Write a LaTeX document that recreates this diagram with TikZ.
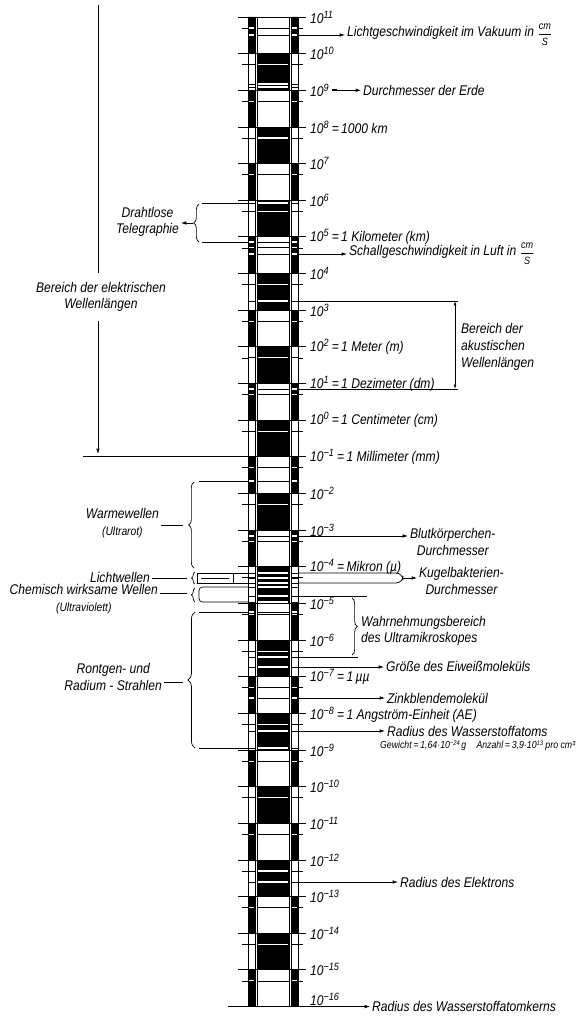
\documentclass[tikz,border=0pt]{standalone}
\usepackage{amsmath}
\usepackage{fontspec}
\setmainfont{Liberation Sans}[FakeStretch=0.86]
\usetikzlibrary{arrows.meta}
\usetikzlibrary{decorations.pathreplacing}

\newcommand\hoch[1]{\ifnum#1<0 \textsuperscript{−\number-#1}\else\textsuperscript{#1}\fi}
\newcommand\khoch[1]{\raisebox{0.5ex}{\fontsize{3.8}{4}\selectfont #1}}
\newcommand\bruch[2]{\raisebox{-0.2ex}{\fontsize{6}{6}\selectfont
  \begin{tabular}[c]{@{}c@{}}#1\\[1.2pt]\hline\noalign{\vskip1.5pt}#2\end{tabular}}}
% Querstrich durch die Saeule, hell auf dunkel und dunkel auf hell
\newcommand\strich[1]{%
  \pgfmathtruncatemacro\seg{floor((#1-17)/36.65)}%
  \ifodd\seg\relax
    \draw[white, line width=0.6pt] (258,#1) -- (288,#1);
    \draw[line width=0.5pt] (248,#1) -- (255,#1) (291,#1) -- (298,#1);
  \else
    \draw[white, line width=0.6pt] (249,#1) -- (254,#1) (292,#1) -- (297,#1);
    \draw[line width=0.5pt] (257,#1) -- (289,#1);
  \fi}

\begin{document}
\begin{tikzpicture}[x=0.02cm,y=-0.02cm,
  declare function={dy(\e)=17+(11-\e)*36.65;},
  beschr/.style={font=\fontsize{8}{9.5}\selectfont\itshape, inner sep=1pt},
  klein/.style={font=\fontsize{5.8}{6.5}\selectfont\itshape, inner sep=1pt},
  linie/.style={line width=0.4pt},
  pfeil/.style={line width=0.4pt, -{Latex[length=3pt,width=2pt]}},
  dpfeil/.style={line width=0.4pt, {Latex[length=2.5pt,width=1.6pt]}-{Latex[length=2.5pt,width=1.6pt]}},
  klammer/.style={decorate, decoration={brace, amplitude=3pt}, line width=0.4pt}]

\useasboundingbox (0,0) rectangle (585,1020);

% Felder der Saeule
\foreach \k in {0,...,26}{
  \pgfmathsetmacro\ya{17+\k*36.65}
  \pgfmathsetmacro\yb{17+(\k+1)*36.65}
  \ifodd\k\relax
    \fill (257,\ya) rectangle (289,\yb);
  \else
    \fill (248,\ya) rectangle (255,\yb) (291,\ya) rectangle (298,\yb);
  \fi
  \pgfmathsetmacro\ym{\ya+11.03}
  \strich{\ym}
  \draw[linie] (242,\ym) -- (248,\ym) (298,\ym) -- (303,\ym);
}
% besondere Marken
\foreach \y in {35,84,87,203,242,254,301,389,481,536,573,578,583,587,602,596,612,657,667,698,731,748,882}{
  \strich{\y}
}
\draw[linie] (248,17) rectangle (255,{dy(-16)}) (257,17) rectangle (289,{dy(-16)})
  (291,17) rectangle (298,{dy(-16)});

% Zehnerpotenzen
\foreach \e/\zusatz [count=\i from 0] in {11/{},10/{},9/{},8/{\,=\,1000 km},7/{},6/{},
  5/{\,=\,1 Kilometer (km)},4/{},3/{},2/{\,=\,1 Meter (m)},1/{\,=\,1 Dezimeter (dm)},
  0/{\,=\,1 Centimeter (cm)},-1/{\,=\,1 Millimeter (mm)},-2/{},-3/{},-4/{\,=\,Mikron (µ)},
  -5/{},-6/{},-7/{\,=\,1\,µµ},-8/{\,=\,1 Angström-Einheit (AE)},-9/{},-10/{},-11/{},
  -12/{},-13/{},-14/{},-15/{},-16/{}}{
  \draw[line width=0.5pt] (238,{dy(\e)}) -- (306,{dy(\e)});
  \pgfmathsetmacro\yl{dy(\e)-7*(\e<-15)+1.5*(\e==-8)}
  \node[beschr, anchor=west] (dek\i) at (308,\yl) {10\hoch{\e}\zusatz};
}

% rechts
\coordinate (licht0) at (298,35);
\node[beschr, anchor=west] (licht) at (345,35) {Lichtgeschwindigkeit im Vakuum in\,\,\bruch{cm}{S}};
\draw[pfeil] (licht0) -- (licht0 -| licht.west);

\node[beschr, anchor=west] (erde) at (361,{dy(9)}) {Durchmesser der Erde};
\draw[line width=1.3pt] (dek2.east) -- ++(5,0) coordinate (erde0);
\draw[pfeil] (erde0) -- (erde0 -| erde.west);

\coordinate (schall0) at (298,254);
\node[beschr, anchor=west] (schall) at (347,254) {Schallgeschwindigkeit in Luft in\,\,\bruch{cm}{S}};
\draw[pfeil] (schall0) -- (schall0 -| schall.west);

\coordinate (ak1) at (458,301);
\coordinate (ak2) at (458,389);
\draw[linie] (298,301) -- (ak1) (298,389) -- (ak2);
\draw[dpfeil] (455,301) -- (455,389);
\node[beschr, align=left, anchor=west] (akust) at (459,347) {Bereich der\\akustischen\\Wellenlängen};

\coordinate (blut0) at (298,536);
\node[beschr, align=center, anchor=west] (blut) at (408,542) {Blutkörperchen-\\Durchmesser};
\draw[pfeil] (blut0) -- (blut0 -| blut.west);

\draw[linie, rounded corners=4pt] (298,573) -- (403,573) -- (403,583) -- (298,583);
\coordinate (kugel0) at (403,578);
\node[beschr, align=center, anchor=west] (kugel) at (417,581) {Kugelbakterien-\\Durchmesser};
\draw[pfeil] (kugel0) -- (kugel0 -| kugel.west);

\draw[linie] (298,596) -- (367,596) (298,657) -- (358,657);
\draw[klammer] (352,598) -- (352,655);
\node[beschr, align=left, anchor=west] (wahr) at (359,631) {Wahrnehmungsbereich\\des Ultramikroskopes};

\coordinate (eiweiss0) at (298,667);
\node[beschr, anchor=west] (eiweiss) at (384,667) {Größe des Eiweißmoleküls};
\draw[pfeil] (eiweiss0) -- (eiweiss0 -| eiweiss.west);

\coordinate (zink0) at (298,698);
\node[beschr, anchor=west] (zink) at (385,698) {Zinkblendemolekül};
\draw[pfeil] (zink0) -- (zink0 -| zink.west);

\coordinate (hatom0) at (298,731);
\node[beschr, anchor=west] (hatom) at (385,731) {Radius des Wasserstoffatoms};
\draw[pfeil] (hatom0) -- (hatom0 -| hatom.west);
\node[klein, anchor=north west] (gewicht) at (378,739) {Gewicht\,=\,1,64·10\khoch{−24}\,g\quad Anzahl\,=\,3,9·10\khoch{13} pro cm³};

\coordinate (elektron0) at (298,882);
\node[beschr, anchor=west] (elektron) at (398,882) {Radius des Elektrons};
\draw[pfeil] (elektron0) -- (elektron0 -| elektron.west);

\coordinate (kern0) at (228,{dy(-16)});
\node[beschr, anchor=west] (kern) at (370,{dy(-16)}) {Radius des Wasserstoffatomkerns};
\draw[pfeil] (kern0) -- (kern0 -| kern.west);

% links
\coordinate (elek0) at (98,5);
\coordinate (elek1) at (98,454);
\draw[pfeil] (elek0) -- (elek1);
\draw[linie] (83,{dy(-1)}) -- (248,{dy(-1)});
\node[beschr, fill=white, align=center, inner ysep=5pt] (elek) at (101,297) {Bereich der elektrischen\\Wellenlängen};

\draw[linie] (202,203) -- (248,203) (202,242) -- (248,242);
\draw[klammer] (199,242) -- (199,204);
\coordinate (draht0) at (193,223);
\node[beschr, align=center, anchor=east] (draht) at (181,222) {Drahtlose\\Telegraphie};
\draw[pfeil] (draht0) -- (draht0 -| draht.east);

\draw[linie] (199,481) -- (248,481);
\draw[klammer] (194,568) -- (194,482);
\coordinate (warm0) at (187,525);
\node[beschr, align=center, anchor=east] (warm) at (161,523) {Warmewellen\\{\fontsize{6.8}{7.5}\selectfont (Ultrarot)}};
\draw[linie, shorten <=2pt] (warm0) -- (warm0 -| warm.east);

\draw[linie] (197,573) rectangle (233,583);
\draw[linie] (201,578) -- (229,578);
\draw[linie] (233,573) -- (248,573) (233,583) -- (248,583);
\draw[klammer, decoration={brace, amplitude=2pt}] (195,584) -- (195,572);
\coordinate (lw0) at (191,578);
\node[beschr, anchor=east] (lw) at (152,577) {Lichtwellen};
\draw[linie, shorten <=2pt] (lw0) -- (lw0 -| lw.east);

\draw[linie, rounded corners=2pt] (248,587) -- (199,587) -- (199,602) -- (248,602);
\draw[klammer, decoration={brace, amplitude=2pt}] (195,602) -- (195,588);
\coordinate (uv0) at (191,593);
\node[beschr, align=center, anchor=east] (uv) at (160,599) {Chemisch wirksame Wellen\\{\fontsize{6.8}{7.5}\selectfont (Ultraviolett)}};
\draw[linie, shorten <=2pt] (uv0) -- (uv0 -| uv.east);

\draw[linie] (199,612) -- (248,612) (199,748) -- (248,748);
\draw[klammer, decoration={brace, amplitude=4pt}] (195,748) -- (195,612);
\coordinate (roe0) at (187,682);
\node[beschr, align=center, anchor=east] (roe) at (164,677) {Rontgen- und\\Radium - Strahlen};
\draw[linie, shorten <=2pt] (roe0) -- (roe0 -| roe.east);
\end{tikzpicture}
\end{document}
